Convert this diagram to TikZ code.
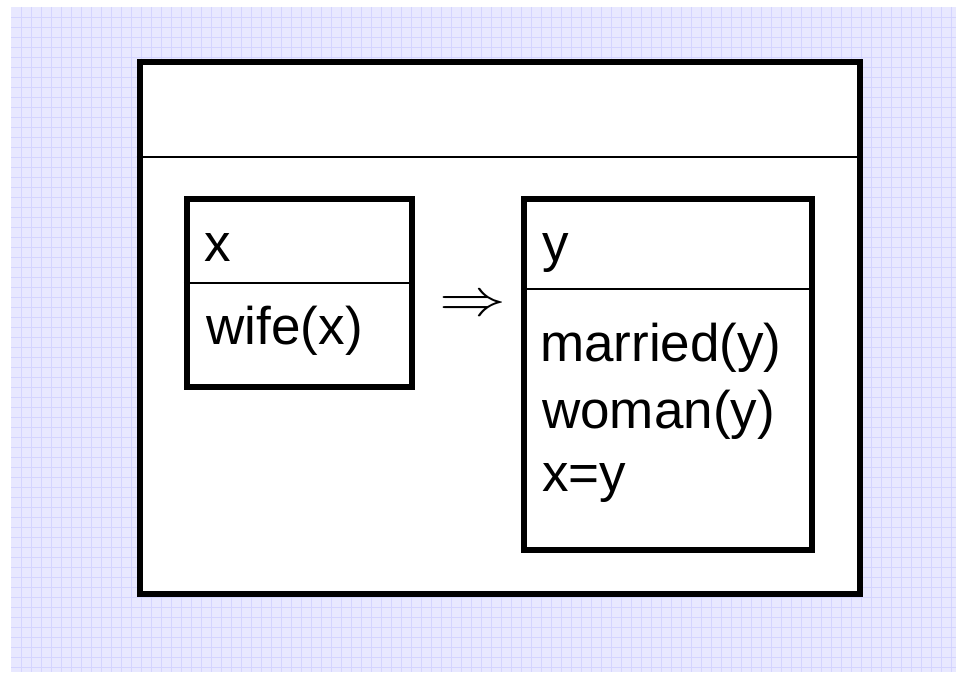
\documentclass[tikz,border=0pt]{standalone}
\usepackage{graphicx}
\usepackage{fontspec}
\setmainfont{Liberation Sans}
\definecolor{gridbg}{RGB}{232,232,255}
\definecolor{gridln}{RGB}{212,212,255}
\begin{document}
\begin{tikzpicture}[x=1bp,y=-1bp,
  box/.style={draw=black, line width=6bp, fill=white, inner sep=0pt},
  divider/.style={draw=black, line width=2bp},
  lbl/.style={anchor=base west, inner sep=0pt, font=\fontsize{53bp}{66bp}\selectfont},
  implies/.style={anchor=center, inner sep=0pt},
  gridline/.style={draw=gridln, line width=1bp}]
\useasboundingbox (0,0) rectangle (956,674);
% background grid
\fill[gridbg] (11,7) rectangle (956,672);
\foreach \i in {1,...,94} \draw[gridline] (11.7+10*\i,7) -- (11.7+10*\i,672);
\foreach \j in {0,...,65} \draw[gridline] (11,17.5+10*\j) -- (956,17.5+10*\j);
% outer box
\node[box, minimum width=720bp, minimum height=532.3bp] (outer) at (499.7,327.85) {};
\coordinate (d1) at (0,157.3);
\draw[divider] (outer.west |- d1) -- (outer.east |- d1);
% left box
\node[box, minimum width=225.7bp, minimum height=188.3bp] (lbox) at (299.6,293.3) {};
\coordinate (d2) at (0,283);
\draw[divider] (lbox.west |- d2) -- (lbox.east |- d2);
% right box
\node[box, minimum width=288.3bp, minimum height=351.3bp] (rbox) at (668.3,374.8) {};
\coordinate (d3) at (0,289.3);
\draw[divider] (rbox.west |- d3) -- (rbox.east |- d3);
% texts
\node[lbl] (tx) at (204.5,261) {x};
\node[lbl] (twife) at (206.5,344) {wife(x)};
\node[lbl] (ty) at (542.5,261) {y};
\node[lbl] (tmar) at (540,361.5) {married(y)};
\node[lbl] (twom) at (542,428.3) {woman(y)};
\node[lbl] (txy) at (542,491.7) {x=y};
\node[implies] (imp) at (473,306) {\scalebox{6.7}[5.2]{$\Rightarrow$}};
\end{tikzpicture}
\end{document}
